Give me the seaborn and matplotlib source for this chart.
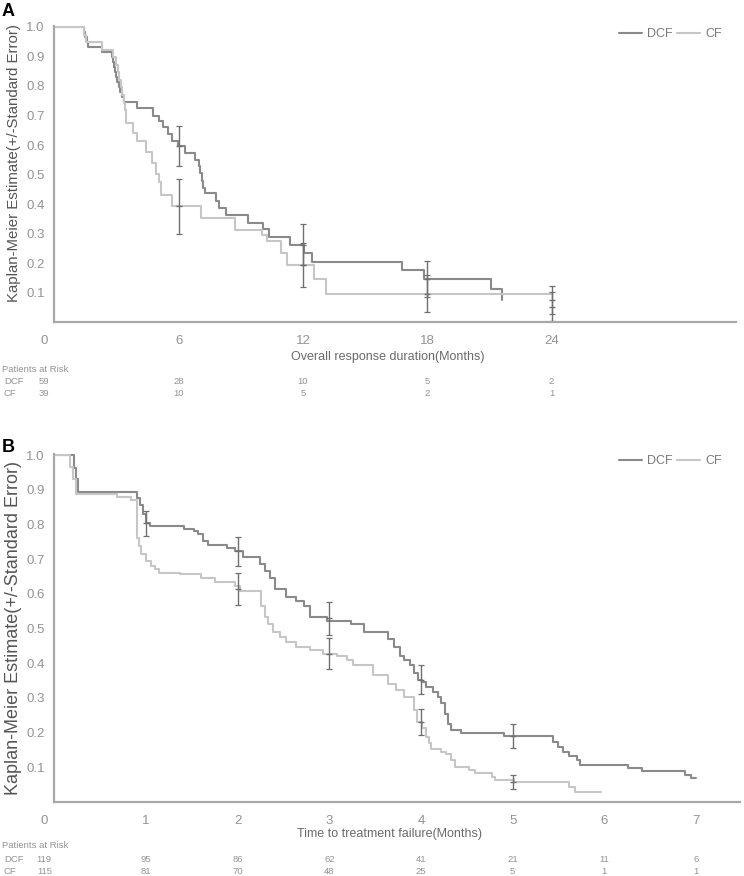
import numpy as np
import pandas as pd
import matplotlib
matplotlib.use("Agg")
import matplotlib.pyplot as plt
import matplotlib.transforms as mtransforms
import seaborn as sns

# ---- panel A: overall response duration (months)
a_dcf_t = [0, 1.43, 1.5, 1.56, 1.65, 2.3, 2.77, 2.83, 2.88, 2.93, 2.98, 3.03, 3.1, 3.17, 3.25,
           3.37, 3.98, 4.78, 5.03, 5.27, 5.51, 5.67, 5.99, 6.31, 6.8, 6.96, 7.04, 7.12, 7.2, 7.28,
           7.8, 7.95, 8.3, 9.37, 10.05, 10.35, 11.39, 12.05, 12.43, 16.8, 17.85, 21.1, 21.6]
a_dcf_s = [1.0, 0.983, 0.966, 0.949, 0.932, 0.915, 0.898, 0.881, 0.864, 0.847, 0.83, 0.813, 0.796, 0.779, 0.762,
           0.745, 0.725, 0.699, 0.683, 0.66, 0.638, 0.615, 0.598, 0.574, 0.548, 0.53, 0.505, 0.48, 0.455, 0.437,
           0.412, 0.387, 0.362, 0.336, 0.316, 0.289, 0.263, 0.236, 0.205, 0.177, 0.146, 0.112, 0.075]
a_cf_t = [0, 1.45, 1.55, 2.3, 2.85, 3.0, 3.06, 3.12, 3.2, 3.28, 3.35, 3.42, 3.46, 3.82, 3.98,
          4.41, 4.7, 4.91, 5.03, 5.14, 5.7, 7.08, 8.7, 10.0, 10.25, 10.95, 11.22, 12.55, 13.12, 24.0]
a_cf_s = [1.0, 0.974, 0.949, 0.923, 0.897, 0.872, 0.846, 0.82, 0.795, 0.77, 0.744, 0.718, 0.674, 0.64, 0.613,
          0.576, 0.54, 0.503, 0.475, 0.43, 0.392, 0.353, 0.314, 0.294, 0.275, 0.233, 0.194, 0.147, 0.097, 0.097]
a_err_t = [6, 12, 18, 24]
a_dcf_err_s = [0.596, 0.263, 0.146, 0.075]
a_dcf_se = [0.067, 0.07, 0.061, 0.048]
a_cf_err_s = [0.392, 0.194, 0.097, 0.053]
a_cf_se = [0.092, 0.076, 0.062, 0.048]
a_ticks = [0, 6, 12, 18, 24]
a_risk_dcf = [59, 28, 10, 5, 2]
a_risk_cf = [39, 10, 5, 2, 1]

# ---- panel B: time to treatment failure (months)
b_dcf_t = [0, 0.215, 0.235, 0.255, 0.9, 0.935, 0.965, 0.995, 1.04, 1.41, 1.52, 1.57, 1.62, 1.68, 1.88,
           1.97, 2.06, 2.24, 2.30, 2.35, 2.41, 2.53, 2.64, 2.72, 2.79, 2.97, 3.24, 3.38, 3.64, 3.71,
           3.77, 3.82, 3.88, 3.92, 3.97, 4.01, 4.06, 4.13, 4.19, 4.22, 4.26, 4.30, 4.33, 4.44, 4.91,
           5.44, 5.50, 5.55, 5.61, 5.70, 5.73, 6.26, 6.41, 6.88, 6.95, 7.0]
b_dcf_s = [1.0, 0.964, 0.93, 0.894, 0.877, 0.855, 0.83, 0.803, 0.796, 0.788, 0.781, 0.771, 0.752, 0.742, 0.733,
           0.722, 0.705, 0.686, 0.667, 0.647, 0.614, 0.590, 0.580, 0.566, 0.533, 0.523, 0.513, 0.489, 0.47, 0.446,
           0.422, 0.408, 0.394, 0.371, 0.353, 0.346, 0.331, 0.317, 0.303, 0.284, 0.255, 0.226, 0.207, 0.199, 0.19,
           0.174, 0.159, 0.145, 0.132, 0.12, 0.106, 0.097, 0.089, 0.078, 0.068, 0.068]
b_cf_t = [0, 0.17, 0.2, 0.24, 0.68, 0.84, 0.898, 0.92, 0.95, 1.0, 1.06, 1.1, 1.14, 1.37, 1.6,
          1.75, 1.97, 2.03, 2.26, 2.30, 2.33, 2.39, 2.46, 2.53, 2.64, 2.79, 2.93, 3.08, 3.19, 3.26,
          3.48, 3.64, 3.73, 3.82, 3.92, 3.96, 4.01, 4.06, 4.09, 4.11, 4.22, 4.27, 4.33, 4.37, 4.52,
          4.59, 4.77, 4.81, 5.01, 5.61, 5.68, 5.96]
b_cf_s = [1.0, 0.965, 0.93, 0.889, 0.879, 0.869, 0.762, 0.738, 0.714, 0.695, 0.681, 0.671, 0.661, 0.656, 0.645,
          0.634, 0.622, 0.607, 0.566, 0.533, 0.513, 0.489, 0.475, 0.46, 0.446, 0.437, 0.427, 0.42, 0.408, 0.394,
          0.365, 0.341, 0.322, 0.303, 0.265, 0.231, 0.212, 0.188, 0.169, 0.154, 0.145, 0.138, 0.12, 0.102, 0.092,
          0.083, 0.073, 0.063, 0.058, 0.044, 0.029, 0.029]
b_dcf_err_t = [1, 2, 3, 4, 5]
b_dcf_err_s = [0.803, 0.722, 0.529, 0.353, 0.19]
b_dcf_se = [0.036, 0.042, 0.047, 0.043, 0.034]
b_cf_err_t = [2, 3, 4, 5]
b_cf_err_s = [0.614, 0.427, 0.231, 0.058]
b_cf_se = [0.046, 0.045, 0.037, 0.02]
b_ticks = [0, 1, 2, 3, 4, 5, 6, 7]
b_risk_dcf = [119, 95, 86, 62, 41, 21, 11, 6]
b_risk_cf = [115, 81, 70, 48, 25, 5, 1, 1]

W, H = 744, 876
GREY_TXT = '#939393'

sns.set_style('white')
plt.rcParams['font.family'] = ['Liberation Sans', 'DejaVu Sans']

fig = plt.figure(figsize=(W / 100, H / 100), dpi=100)


def fy(py):
    return 1 - py / H


def panel(rect, dcf_t, dcf_s, cf_t, cf_s, dcf_err, cf_err, ticks, xmax,
          xlabel, risk_dcf, risk_cf, rows_y, letter, letter_y, ylab_y, ylab_size, leg_y):
    ax = fig.add_axes(rect)
    df = pd.concat([
        pd.DataFrame({'time': dcf_t, 'surv': dcf_s, 'arm': 'DCF'}),
        pd.DataFrame({'time': cf_t, 'surv': cf_s, 'arm': 'CF'}),
    ])
    sns.lineplot(data=df, x='time', y='surv', hue='arm',
                 palette={'DCF': '#8a8a8a', 'CF': '#c6c6c6'},
                 drawstyle='steps-post', estimator=None, sort=False,
                 linewidth=1.5, ax=ax)
    for (et, es, se) in (dcf_err, cf_err):
        ax.errorbar(et, es, yerr=se, fmt='_', ms=4, color='#707070',
                    ecolor='#707070', elinewidth=1, capsize=2.2, capthick=0.9)

    ax.set_xlim(0, xmax)
    ax.set_ylim(0, 1.003)
    ax.set_xticks(ticks)
    ax.set_xticklabels([str(t) for t in ticks], fontsize=9.5, color=GREY_TXT)
    yt = [round(0.1 * i, 1) for i in range(1, 11)]
    ax.set_yticks(yt)
    ax.set_yticklabels(['%.1f' % v for v in yt], fontsize=9.5, color=GREY_TXT)
    ax.tick_params(axis='x', length=4, width=1, color='#a0a0a0', pad=5)
    ax.tick_params(axis='y', length=2, width=1, color='#a0a0a0', pad=5)
    # first tick label sits a bit left of the axis, as in the source
    off = mtransforms.ScaledTranslation(-10 / 100, 0, fig.dpi_scale_trans)
    lab0 = ax.get_xticklabels()[0]
    lab0.set_transform(lab0.get_transform() + off)
    sns.despine(ax=ax)
    for s in ('left', 'bottom'):
        ax.spines[s].set_color('#a8a8a8')
        ax.spines[s].set_linewidth(1.6)
    ax.set_xlabel('')
    ax.set_ylabel('')

    handles, labels = ax.get_legend_handles_labels()
    ax.legend(handles, labels, loc='upper right', ncol=2, frameon=False,
              bbox_to_anchor=(727 / W, fy(leg_y)), bbox_transform=fig.transFigure,
              borderaxespad=0, handlelength=1.9, handletextpad=0.4,
              columnspacing=0.3, prop={'size': 9})
    for txt in ax.get_legend().get_texts():
        txt.set_color('#7a7a7a')

    # axis titles and risk table
    cx = rect[0] + rect[2] / 2
    fig.text(cx - 0.01, fy(rows_y[0]), xlabel, ha='center', va='center',
             fontsize=9, color='#6a6a6a')
    fig.text(14 / W, fy(ylab_y), 'Kaplan-Meier Estimate(+/-Standard Error)',
             rotation=90, ha='center', va='center', fontsize=ylab_size, color='#555555')
    fig.text(2 / W, fy(letter_y), letter, ha='left', va='center',
             fontsize=13, fontweight='bold', color='black')

    tr = mtransforms.blended_transform_factory(ax.transData, fig.transFigure)
    fig.text(2 / W, fy(rows_y[1]), 'Patients at Risk', ha='left', va='center',
             fontsize=6.8, color=GREY_TXT)
    for name, vals, ry in (('DCF', risk_dcf, rows_y[2]), ('CF', risk_cf, rows_y[3])):
        fig.text(4 / W, fy(ry), name, ha='left', va='center',
                 fontsize=6.8, color=GREY_TXT)
        for i, (t, n) in enumerate(zip(ticks, vals)):
            t_txt = ax.text(t, fy(ry), str(n), transform=tr, ha='center', va='center',
                            fontsize=6.8, color=GREY_TXT)
            if i == 0:
                t_txt.set_transform(tr + off)
    return ax


panel([54.3 / W, fy(322.3), (736 - 54.3) / W, (322.3 - 26) / H],
      a_dcf_t, a_dcf_s, a_cf_t, a_cf_s,
      (a_err_t, a_dcf_err_s, a_dcf_se), (a_err_t, a_cf_err_s, a_cf_se),
      a_ticks, 32.9, 'Overall response duration(Months)',
      a_risk_dcf, a_risk_cf, (357, 369, 381, 393), 'A', 11, 163, 10.8, 23)

panel([54.3 / W, fy(802), (740 - 54.3) / W, (802 - 454) / H],
      b_dcf_t, b_dcf_s, b_cf_t, b_cf_s,
      (b_dcf_err_t, b_dcf_err_s, b_dcf_se), (b_cf_err_t, b_cf_err_s, b_cf_se),
      b_ticks, 7.48, 'Time to treatment failure(Months)',
      b_risk_dcf, b_risk_cf, (834, 846, 859, 871), 'B', 448, 628, 13, 450)

fig.savefig('out.png', dpi=100)
